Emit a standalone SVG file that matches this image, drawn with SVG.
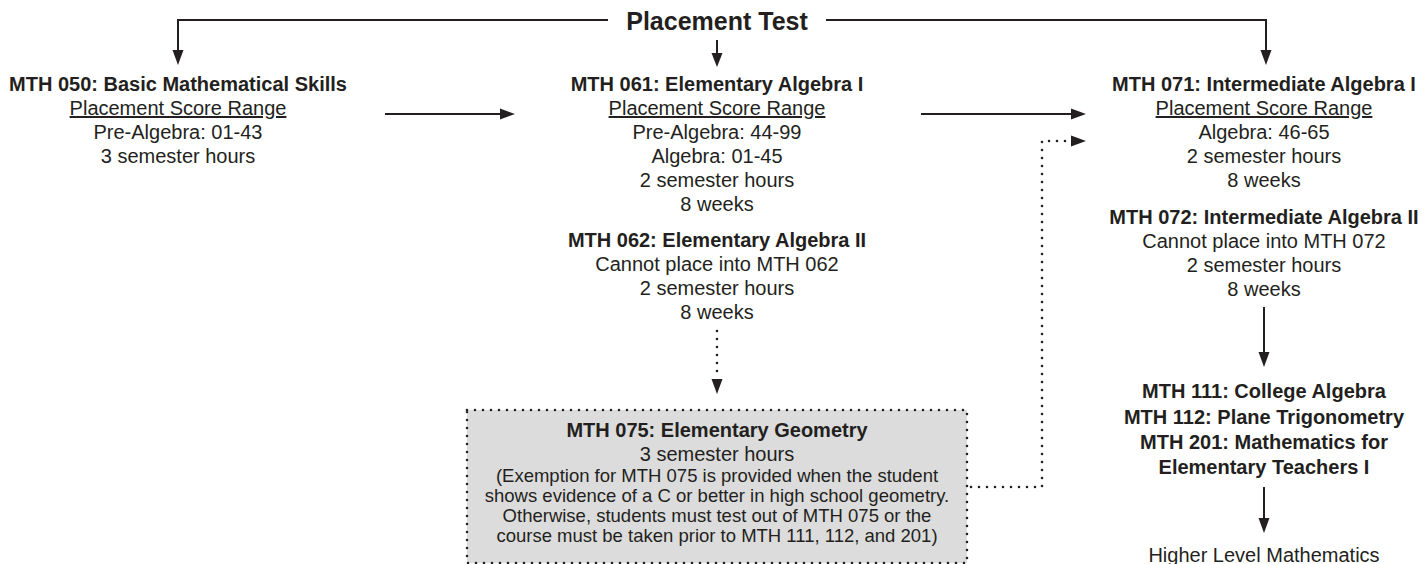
<svg xmlns="http://www.w3.org/2000/svg" width="1424" height="564" viewBox="0 0 1424 564">
<style>
text{font-family:"Liberation Sans",Arial,sans-serif;fill:#231f20;text-anchor:middle}
.b{font-weight:bold;font-size:20px}
.r{font-size:20px}
.s{font-size:18.5px}
.u{text-decoration:underline}
.ln{stroke:#231f20;stroke-width:2;fill:none}
.dot{stroke:#231f20;stroke-width:2.6;fill:none;stroke-dasharray:0 8;stroke-linecap:round}
.ah{fill:#231f20}
</style>
<rect width="1424" height="564" fill="#fff"/>
<g id="connectors">
<path class="ln" d="M608 20H178V52M826 20H1266V52"/>
<polygon class="ah" points="172.5,50 183.5,50 178,65"/>
<polygon class="ah" points="1260.5,50 1271.5,50 1266,65"/>
<path class="ln" d="M717 40V55"/>
<polygon class="ah" points="711.5,53 722.5,53 717,67"/>
<path class="ln" d="M385 114H502"/>
<polygon class="ah" points="500,108.5 500,119.5 515,114"/>
<path class="ln" d="M921 114H1073"/>
<polygon class="ah" points="1071,108.5 1071,119.5 1086,114"/>
<path class="dot" d="M717 331V373"/>
<polygon class="ah" points="711.5,379 722.5,379 717,394"/>
<path class="dot" d="M971 487H1042V141H1066"/>
<polygon class="ah" points="1071,135.5 1071,146.5 1086,141"/>
<path class="ln" d="M1264 307V354"/>
<polygon class="ah" points="1258.5,352 1269.5,352 1264,367"/>
<path class="ln" d="M1264 487V520"/>
<polygon class="ah" points="1258.5,518 1269.5,518 1264,533"/>
</g>
<g id="placement-test">
<text x="717" y="30" style="font-weight:bold;font-size:25px">Placement Test</text>
</g>
<g id="mth050">
<text class="b" x="178" y="91">MTH 050: Basic Mathematical Skills</text>
<text class="r u" x="178" y="115">Placement Score Range</text>
<text class="r" x="178" y="139">Pre-Algebra: 01-43</text>
<text class="r" x="178" y="163">3 semester hours</text>
</g>
<g id="mth061">
<text class="b" x="717" y="91">MTH 061: Elementary Algebra I</text>
<text class="r u" x="717" y="115">Placement Score Range</text>
<text class="r" x="717" y="139">Pre-Algebra: 44-99</text>
<text class="r" x="717" y="163">Algebra: 01-45</text>
<text class="r" x="717" y="187">2 semester hours</text>
<text class="r" x="717" y="211">8 weeks</text>
</g>
<g id="mth062">
<text class="b" x="717" y="247">MTH 062: Elementary Algebra II</text>
<text class="r" x="717" y="271">Cannot place into MTH 062</text>
<text class="r" x="717" y="295">2 semester hours</text>
<text class="r" x="717" y="319">8 weeks</text>
</g>
<g id="mth075">
<rect x="467" y="410" width="500" height="153" fill="#dcdcdc"/>
<rect class="dot" x="467" y="410" width="500" height="153"/>
<text class="b" x="717" y="437">MTH 075: Elementary Geometry</text>
<text class="r" x="717" y="461">3 semester hours</text>
<text class="s" x="717" y="482">(Exemption for MTH 075 is provided when the student</text>
<text class="s" x="717" y="502">shows evidence of a C or better in high school geometry.</text>
<text class="s" x="717" y="522">Otherwise, students must test out of MTH 075 or the</text>
<text class="s" x="717" y="542">course must be taken prior to MTH 111, 112, and 201)</text>
</g>
<g id="mth071">
<text class="b" x="1264" y="91">MTH 071: Intermediate Algebra I</text>
<text class="r u" x="1264" y="115">Placement Score Range</text>
<text class="r" x="1264" y="139">Algebra: 46-65</text>
<text class="r" x="1264" y="163">2 semester hours</text>
<text class="r" x="1264" y="187">8 weeks</text>
</g>
<g id="mth072">
<text class="b" x="1264" y="224">MTH 072: Intermediate Algebra II</text>
<text class="r" x="1264" y="248">Cannot place into MTH 072</text>
<text class="r" x="1264" y="272">2 semester hours</text>
<text class="r" x="1264" y="296">8 weeks</text>
</g>
<g id="college">
<text class="b" x="1264" y="398">MTH 111: College Algebra</text>
<text class="b" x="1264" y="423.5">MTH 112: Plane Trigonometry</text>
<text class="b" x="1264" y="449">MTH 201: Mathematics for</text>
<text class="b" x="1264" y="474">Elementary Teachers I</text>
</g>
<g id="higher">
<text class="r" x="1264" y="562">Higher Level Mathematics</text>
</g>
</svg>
